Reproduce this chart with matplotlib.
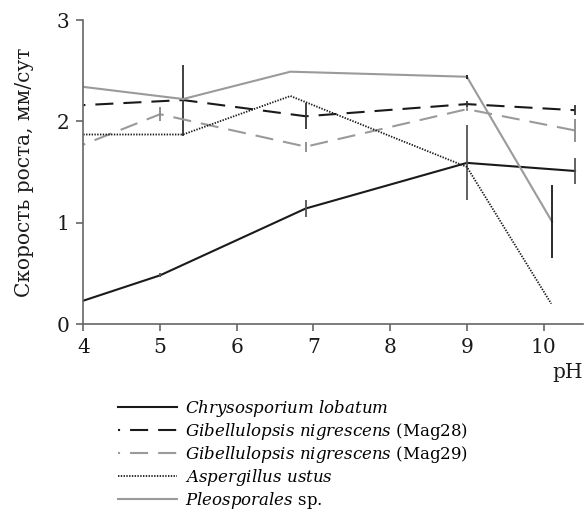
import numpy as np
import matplotlib
matplotlib.use("Agg")
import matplotlib.pyplot as plt

plt.rcParams['font.family'] = ['DejaVu Serif']
plt.rcParams['mathtext.fontset'] = 'custom'
plt.rcParams['mathtext.rm'] = 'DejaVu Serif'
plt.rcParams['mathtext.it'] = 'DejaVu Serif:italic'
plt.rcParams['lines.scale_dashes'] = False

# данные (pH, скорость роста, погрешность)
x_chr = [4.0, 5.0, 6.9, 9.0, 10.41]
y_chr = [0.23, 0.48, 1.14, 1.59, 1.51]
e_chr = [0.0, 0.02, 0.085, 0.37, 0.13]

x_g28 = [4.0, 5.3, 6.9, 9.0, 10.41]
y_g28 = [2.16, 2.21, 2.05, 2.17, 2.11]
e_g28 = [0.0, 0.35, 0.13, 0.03, 0.05]

x_g29 = [4.0, 5.0, 6.9, 9.0, 10.41]
y_g29 = [1.77, 2.07, 1.75, 2.12, 1.91]
e_g29 = [0.0, 0.07, 0.05, 0.02, 0.11]

x_asp = [4.0, 5.3, 6.7, 9.0, 10.1]
y_asp = [1.87, 1.87, 2.25, 1.55, 0.20]

x_ple = [4.0, 5.3, 6.7, 9.0, 10.11]
y_ple = [2.34, 2.22, 2.49, 2.44, 1.01]
e_ple = [0.0, 0.0, 0.0, 0.02, 0.36]

labels = [r'$\it{Chrysosporium\ lobatum}$',
          r'$\it{Gibellulopsis\ nigrescens}$ (Mag28)',
          r'$\it{Gibellulopsis\ nigrescens}$ (Mag29)',
          r'$\it{Aspergillus\ ustus}$',
          r'$\it{Pleosporales}$ sp.']

black = '#1a1a1a'
gray = '#9a9a9a'
dash = (11.5, (13, 7.2))

fig = plt.figure(figsize=(5.85, 5.29), dpi=100)
ax = fig.add_axes([83.3/585, 1-324/529, 499.4/585, 304/529])

h1, = ax.plot(x_chr, y_chr, color=black, lw=1.5)
ax.errorbar(x_chr, y_chr, yerr=e_chr, fmt='none', ecolor='#555555', elinewidth=1.3)

h2, = ax.plot(x_g28, y_g28, color=black, lw=1.5, ls=dash)
ax.errorbar(x_g28, y_g28, yerr=e_g28, fmt='none', ecolor='#333333', elinewidth=1.3)

h3, = ax.plot(x_g29, y_g29, color=gray, lw=1.5, ls=dash)
ax.errorbar(x_g29, y_g29, yerr=e_g29, fmt='none', ecolor='#888888', elinewidth=1.3)

h4, = ax.plot(x_asp, y_asp, color=black, lw=1.3, ls=(0, (1, 1)))

h5, = ax.plot(x_ple, y_ple, color=gray, lw=1.5)
ax.errorbar(x_ple, y_ple, yerr=e_ple, fmt='none', ecolor=black, elinewidth=1.3)

ax.set_xlim(4, 10.51)
ax.set_ylim(0, 3)
ax.set_xticks([4, 5, 6, 7, 8, 9, 10])
ax.set_yticks([0, 1, 2, 3])
for s in ['top', 'right']:
    ax.spines[s].set_visible(False)
for s in ['left', 'bottom']:
    ax.spines[s].set_color('#666666')
    ax.spines[s].set_linewidth(1.2)
ax.tick_params(direction='out', length=5, width=1.2, color='#666666',
               labelsize=14.5, pad=5, labelcolor='#1a1a1a')

ax.set_ylabel('Скорость роста, мм/сут', fontsize=14.5, color='#1a1a1a', labelpad=16)
ax.text(1.0, -0.16, 'pH', transform=ax.transAxes, ha='right', va='center',
        fontsize=14.5, color='#1a1a1a')

fig.legend([h1, h2, h3, h4, h5], labels, loc='upper left',
           bbox_to_anchor=(118/585, 1-398/529), frameon=False, fontsize=12,
           handlelength=3.55, handletextpad=0.45, labelspacing=0.12,
           borderpad=0, borderaxespad=0)

fig.savefig('out.png', dpi=100)
